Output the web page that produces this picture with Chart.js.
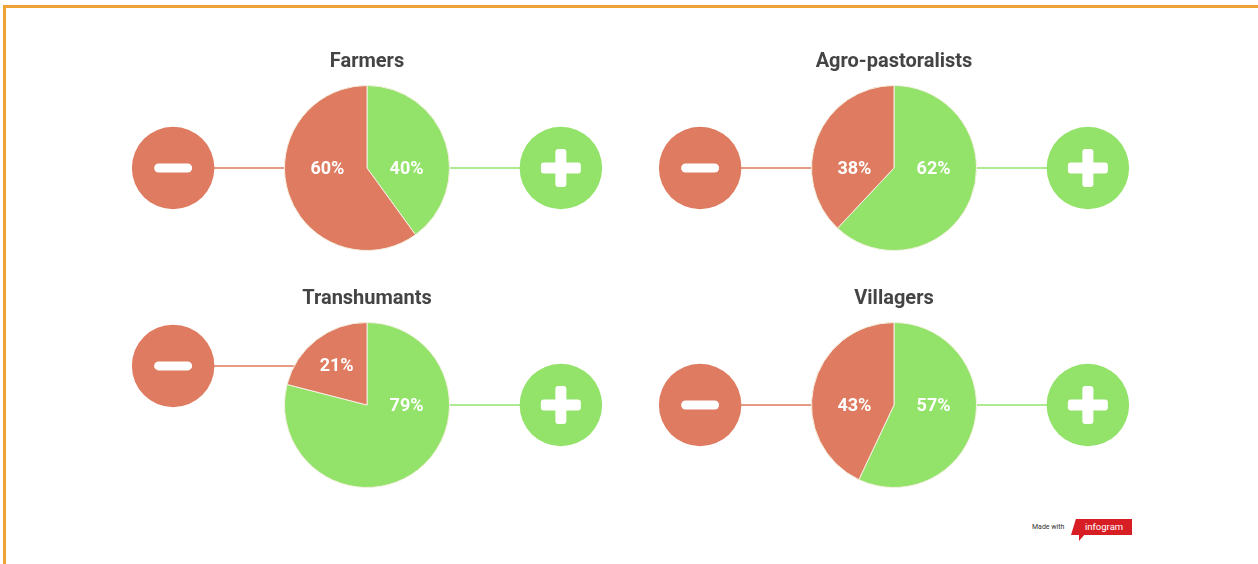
<!DOCTYPE html>
<html>
<head>
<meta charset="utf-8">
<script src="https://cdn.jsdelivr.net/npm/chart.js@4/dist/chart.umd.min.js"></script>
<style>
  html, body { margin: 0; padding: 0; background: #fff; overflow: hidden; }
  body { width: 1258px; height: 564px; position: relative; font-family: Roboto, sans-serif; }
  .frame { position: absolute; left: 3px; top: 5px; width: 1300px; height: 600px;
           border-top: 3px solid #efa236; border-left: 3px solid #efa236; }
  .panel { position: absolute; width: 526px; height: 237px; }
  .brand { position: absolute; left: 1032px; top: 519px; height: 22px; }
  .brand .made { position: absolute; left: 0; top: 4px; font-size: 7px; color: #333; white-space: nowrap; }
  .brand .logo { position: absolute; left: 39px; top: 0; width: 61px; height: 16px; background: #d81e25;
                 clip-path: polygon(8% 0, 100% 0, 100% 100%, 0 100%); }
  .brand .logo span { position: absolute; left: 14px; top: 2px; font-size: 9.5px; color: #fff; }
  .brand .tail { position: absolute; left: 47px; top: 15px; width: 6px; height: 7px; background: #d81e25;
                 clip-path: polygon(0 0, 100% 0, 0 100%); }
</style>
</head>
<body>
<div class="frame"></div>
<div class="panel" style="left:104px; top:40px;"><canvas id="c0"></canvas></div>
<div class="panel" style="left:631px; top:40px;"><canvas id="c1"></canvas></div>
<div class="panel" style="left:104px; top:277px;"><canvas id="c2"></canvas></div>
<div class="panel" style="left:631px; top:277px;"><canvas id="c3"></canvas></div>
<div class="brand">
  <div class="made">Made with</div>
  <div class="logo"><span>infogram</span></div>
  <div class="tail"></div>
</div>
<script>
// groups and their shares (positive first, drawn clockwise from 12 o'clock)
const groups = ['Farmers', 'Agro-pastoralists', 'Transhumants', 'Villagers'];
const positiveShare = [40, 62, 79, 57];
const negativeShare = [60, 38, 21, 43];

const RED = '#df7b61';
const GREEN = '#93e36b';

// where the percent label of an arc goes
function labelPos(arc) {
    const { x, y, startAngle, endAngle, outerRadius } = arc.getProps(['x', 'y', 'startAngle', 'endAngle', 'outerRadius'], true);
    const mid = (startAngle + endAngle) / 2;
    const sides = [0, Math.PI, 2 * Math.PI].filter(a => a > startAngle && a < endAngle);
    if (sides.length) {
        sides.sort((a, b) => Math.abs(a - mid) - Math.abs(b - mid));
        const dir = Math.cos(sides[0]);
        return { x: x + dir * outerRadius * 0.48, y: y };
    }
    return { x: x + Math.cos(mid) * outerRadius * 0.6, y: y + Math.sin(mid) * outerRadius * 0.6 };
}

const sideBadges = {
    id: 'sideBadges',
    beforeDatasetsDraw(chart) {
        const ctx = chart.ctx;
        const arcs = chart.getDatasetMeta(0).data;
        const r = arcs[0].outerRadius;
        const cx = arcs[0].x;
        ctx.save();
        ctx.lineWidth = 1.5;
        [[arcs[1], -1, RED], [arcs[0], 1, GREEN]].forEach(([arc, dir, col]) => {
            const p = labelPos(arc);
            ctx.strokeStyle = col;
            ctx.beginPath();
            ctx.moveTo(cx + dir * r * 2.35, p.y);
            ctx.lineTo(cx, p.y);
            ctx.stroke();
        });
        ctx.restore();
    },
    afterDatasetsDraw(chart) {
        const ctx = chart.ctx;
        const arcs = chart.getDatasetMeta(0).data;
        const r = arcs[0].outerRadius;
        const cx = arcs[0].x;
        ctx.save();
        [[arcs[1], -1, RED], [arcs[0], 1, GREEN]].forEach(([arc, dir, col]) => {
            const p = labelPos(arc);
            const bx = cx + dir * r * 2.35;
            ctx.fillStyle = col;
            ctx.beginPath();
            ctx.arc(bx, p.y, r * 0.5, 0, Math.PI * 2);
            ctx.fill();
            ctx.fillStyle = '#fff';
            if (dir < 0) {
                ctx.beginPath();
                ctx.roundRect(bx - 19, p.y - 4.5, 38, 9, 4.5);
                ctx.fill();
            } else {
                ctx.beginPath();
                ctx.roundRect(bx - 20, p.y - 5.5, 40, 11, 3);
                ctx.roundRect(bx - 5.5, p.y - 19, 11, 38, 3);
                ctx.fill();
            }
        });
        // percent labels
        ctx.font = 'bold 18px Roboto';
        ctx.textAlign = 'center';
        ctx.textBaseline = 'middle';
        ctx.fillStyle = '#fff';
        const values = chart.data.datasets[0].data;
        arcs.forEach((arc, i) => {
            const p = labelPos(arc);
            ctx.fillText(values[i] + '%', p.x, p.y + 1);
        });
        ctx.restore();
    }
};

groups.forEach((name, i) => {
    new Chart(document.getElementById('c' + i), {
        type: 'pie',
        data: {
            labels: ['Positive', 'Negative'],
            datasets: [{
                data: [positiveShare[i], negativeShare[i]],
                backgroundColor: [GREEN, RED],
                borderColor: '#f4f0e0',
                borderWidth: 1
            }]
        },
        options: {
            responsive: true,
            maintainAspectRatio: false,
            animation: false,
            layout: { padding: { bottom: 26 } },
            plugins: {
                legend: { display: false },
                tooltip: { enabled: false },
                title: {
                    display: true,
                    text: name,
                    color: '#444',
                    font: { family: 'Roboto', size: 20, weight: 'bold' },
                    padding: { top: 10, bottom: 11 }
                }
            }
        },
        plugins: [sideBadges]
    });
});
</script>
</body>
</html>
